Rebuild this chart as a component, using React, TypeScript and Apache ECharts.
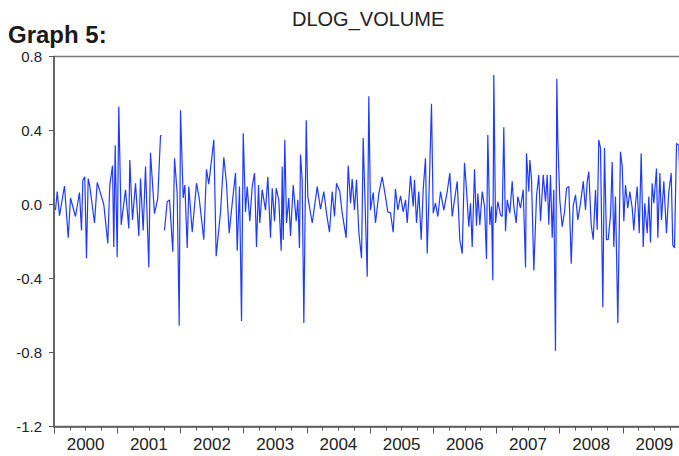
import React, { useEffect, useRef } from "react";
import * as echarts from "echarts";

const times: number[] = [
  2000.024, 2000.051, 2000.087, 2000.166, 2000.225, 2000.261, 2000.34, 2000.403, 2000.435, 2000.456,
  2000.487, 2000.514, 2000.541, 2000.566, 2000.641, 2000.684, 2000.788, 2000.851, 2000.883, 2000.926,
  2000.946, 2000.968, 2001.0, 2001.025, 2001.063, 2001.131, 2001.184, 2001.199, 2001.242, 2001.29,
  2001.342, 2001.369, 2001.411, 2001.448, 2001.5, 2001.527, 2001.59, 2001.642, 2001.685, 2001.701,
  2001.73, 2001.748, 2001.791, 2001.828, 2001.88, 2001.907, 2001.949, 2001.981, 2002.002, 2002.044,
  2002.07, 2002.108, 2002.133, 2002.187, 2002.255, 2002.297, 2002.37, 2002.413, 2002.449, 2002.529,
  2002.566, 2002.635, 2002.687, 2002.729, 2002.772, 2002.82, 2002.872, 2002.899, 2002.935, 2002.967,
  2002.994, 2003.03, 2003.057, 2003.098, 2003.136, 2003.173, 2003.204, 2003.236, 2003.256, 2003.294,
  2003.347, 2003.383, 2003.426, 2003.453, 2003.489, 2003.516, 2003.557, 2003.595, 2003.611, 2003.627,
  2003.652, 2003.679, 2003.715, 2003.742, 2003.785, 2003.832, 2003.858, 2003.884, 2003.9, 2003.927,
  2003.953, 2003.991, 2004.016, 2004.059, 2004.086, 2004.165, 2004.217, 2004.269, 2004.312, 2004.359,
  2004.402, 2004.438, 2004.47, 2004.522, 2004.56, 2004.623, 2004.655, 2004.692, 2004.718, 2004.755,
  2004.786, 2004.823, 2004.866, 2004.892, 2004.929, 2004.956, 2004.981, 2005.008, 2005.051, 2005.087,
  2005.139, 2005.193, 2005.245, 2005.282, 2005.324, 2005.367, 2005.403, 2005.44, 2005.483, 2005.525,
  2005.562, 2005.589, 2005.641, 2005.684, 2005.704, 2005.736, 2005.772, 2005.81, 2005.842, 2005.878,
  2005.905, 2005.93, 2005.973, 2006.0, 2006.036, 2006.073, 2006.116, 2006.168, 2006.222, 2006.263,
  2006.301, 2006.337, 2006.38, 2006.421, 2006.459, 2006.495, 2006.527, 2006.563, 2006.59, 2006.617,
  2006.654, 2006.685, 2006.706, 2006.738, 2006.776, 2006.812, 2006.843, 2006.864, 2006.896, 2006.922,
  2006.943, 2006.959, 2006.986, 2007.022, 2007.065, 2007.092, 2007.117, 2007.144, 2007.171, 2007.212,
  2007.25, 2007.275, 2007.313, 2007.339, 2007.381, 2007.424, 2007.461, 2007.476, 2007.513, 2007.529,
  2007.556, 2007.592, 2007.635, 2007.671, 2007.698, 2007.741, 2007.777, 2007.804, 2007.829, 2007.856,
  2007.883, 2007.908, 2007.935, 2007.956, 2007.972, 2008.003, 2008.041, 2008.078, 2008.109, 2008.146,
  2008.184, 2008.215, 2008.252, 2008.288, 2008.331, 2008.374, 2008.41, 2008.437, 2008.462, 2008.5,
  2008.532, 2008.568, 2008.595, 2008.62, 2008.647, 2008.684, 2008.71, 2008.742, 2008.769, 2008.806,
  2008.832, 2008.858, 2008.884, 2008.921, 2008.963, 2008.991, 2009.016, 2009.043, 2009.079, 2009.111,
  2009.149, 2009.174, 2009.201, 2009.228, 2009.26, 2009.291, 2009.323, 2009.348, 2009.386, 2009.412,
  2009.438, 2009.465, 2009.491, 2009.533, 2009.554, 2009.586, 2009.612, 2009.649, 2009.691, 2009.728,
  2009.766, 2009.791, 2009.818, 2009.85, 2009.886, 2009.93, 2009.97,
];

const values: (number | null)[] = [
  -0.03, 0.07, -0.06, 0.1, -0.18, 0.035, -0.065, 0.065, -0.14, 0.13,
  0.15, -0.29, 0.14, 0.1, -0.1, 0.12, 0.0, -0.21, 0.105, 0.21,
  -0.23, 0.32, -0.285, 0.53, -0.11, 0.08, -0.13, 0.24, -0.083, 0.115,
  -0.17, 0.14, -0.14, 0.205, -0.34, 0.28, -0.05, 0.035, 0.37, 0.375,
  null, -0.14, 0.015, 0.025, -0.255, 0.25, 0.06, -0.656, 0.51, 0.035,
  0.105, -0.235, 0.097, -0.15, 0.115, 0.035, -0.19, 0.19, 0.11, 0.35,
  -0.28, -0.04, 0.255, 0.115, -0.155, 0.007, 0.17, -0.25, 0.097, -0.63,
  0.385, -0.04, 0.097, -0.09, 0.097, 0.17, -0.23, 0.105, -0.1, 0.08,
  -0.03, 0.15, -0.18, 0.088, -0.09, 0.088, 0.025, -0.25, 0.205, -0.19,
  0.35, -0.1, 0.035, -0.17, 0.105, -0.09, 0.025, -0.235, 0.27, 0.133,
  -0.64, 0.455, 0.043, -0.047, -0.1, 0.097, -0.025, 0.07, -0.047, -0.15,
  0.07, -0.065, 0.115, 0.07, -0.047, -0.18, 0.21, 0.007, 0.137, -0.03,
  0.133, -0.15, -0.29, 0.36, -0.075, -0.39, 0.585, -0.03, 0.065, -0.1,
  0.057, 0.15, 0.043, -0.04, -0.045, -0.15, 0.083, -0.03, 0.047, -0.04,
  0.025, -0.1, 0.155, -0.01, 0.133, -0.1, 0.07, -0.19, 0.083, 0.25,
  -0.265, 0.007, 0.545, -0.047, 0.007, -0.065, 0.07, -0.03, 0.07, 0.17,
  -0.065, 0.025, 0.125, -0.19, -0.265, 0.225, 0.08, -0.12, 0.007, -0.23,
  0.19, -0.115, 0.06, -0.11, 0.07, -0.01, -0.295, 0.375, -0.11, -0.01,
  -0.41, 0.7, -0.1, 0.015, -0.056, -0.065, 0.417, -0.145, 0.025, -0.047,
  0.125, -0.01, -0.1, 0.043, -0.02, 0.08, -0.34, 0.277, 0.07, 0.24,
  0.133, -0.357, 0.047, 0.16, -0.09, 0.16, 0.015, 0.16, -0.11, 0.16,
  -0.18, 0.08, -0.79, 0.68, 0.35, 0.025, -0.12, -0.04, 0.088, 0.097,
  -0.32, -0.007, 0.052, -0.083, 0.007, 0.125, -0.03, 0.125, 0.178, -0.11,
  -0.19, 0.08, -0.137, 0.35, 0.305, -0.555, 0.305, -0.19, -0.19, -0.056,
  0.23, -0.23, 0.043, -0.64, 0.285, 0.205, -0.09, 0.105, -0.02, 0.07,
  -0.02, -0.14, 0.0, 0.097, -0.155, 0.277, -0.23, 0.007, -0.155, 0.043,
  -0.205, 0.115, 0.007, 0.195, -0.18, 0.17, -0.083, 0.125, -0.155, 0.07,
  0.17, -0.22, -0.235, 0.33, 0.32, -0.12, 0.05,
];

const yearLabels: string[] = ["2000", "2001", "2002", "2003", "2004", "2005", "2006", "2007", "2008", "2009"];

const FONT = "'Liberation Sans', Arial, Helvetica, sans-serif";

export default function App() {
  const ref = useRef<HTMLDivElement>(null);

  useEffect(() => {
    if (!ref.current) return;
    const chart = echarts.init(ref.current, null, { renderer: "svg" });
    const data = times.map((t, i) => [t, values[i] === null ? "-" : values[i]]);
    chart.setOption({
      animation: false,
      backgroundColor: "#ffffff",
      title: [
        {
          text: "DLOG_VOLUME",
          left: 292,
          top: 9,
          padding: 0,
          textStyle: { fontFamily: FONT, fontSize: 20, fontWeight: "normal", color: "#222" },
        },
        {
          text: "Graph 5:",
          left: 8,
          top: 22,
          padding: 0,
          textStyle: { fontFamily: FONT, fontSize: 24, fontWeight: "bold", color: "#1a1a1a" },
        },
      ],
      grid: {
        left: 54,
        top: 56.5,
        width: 632,
        height: 370,
        show: true,
        borderColor: "#7a7a7a",
        borderWidth: 1.5,
        backgroundColor: "transparent",
      },
      xAxis: [
        {
          type: "value",
          min: 2000,
          max: 2010,
          interval: 1,
          position: "bottom",
          axisLine: { show: true, onZero: false, lineStyle: { color: "#555", width: 1.5 } },
          axisTick: { show: true, length: 7, lineStyle: { color: "#555", width: 1 } },
          minorTick: { show: true, splitNumber: 4, length: 4, lineStyle: { color: "#555", width: 1 } },
          axisLabel: { show: false },
          splitLine: { show: false },
        },
        {
          type: "category",
          data: yearLabels,
          position: "bottom",
          boundaryGap: true,
          axisLine: { show: false },
          axisTick: { show: false },
          axisLabel: { margin: 9, fontFamily: FONT, fontSize: 17, color: "#222" },
          splitLine: { show: false },
        },
      ],
      yAxis: {
        type: "value",
        min: -1.2,
        max: 0.8,
        interval: 0.4,
        axisLine: { show: true, onZero: false, lineStyle: { color: "#555", width: 1.5 } },
        axisTick: { show: true, length: 5, lineStyle: { color: "#555", width: 1 } },
        axisLabel: {
          margin: 12,
          fontFamily: FONT,
          fontSize: 15,
          color: "#222",
          formatter: (v: number) => v.toFixed(1),
        },
        splitLine: { show: false },
      },
      series: [
        {
          type: "line",
          xAxisIndex: 0,
          data,
          showSymbol: false,
          connectNulls: false,
          lineStyle: { color: "#1f3bff", width: 1.2 },
          silent: true,
        },
      ],
    });
    return () => chart.dispose();
  }, []);

  return (
    <div style={{ position: "fixed", left: 0, top: 0, width: 679, height: 456, overflow: "hidden", background: "#fff" }}>
      <div ref={ref} style={{ width: 690, height: 456 }} />
    </div>
  );
}
